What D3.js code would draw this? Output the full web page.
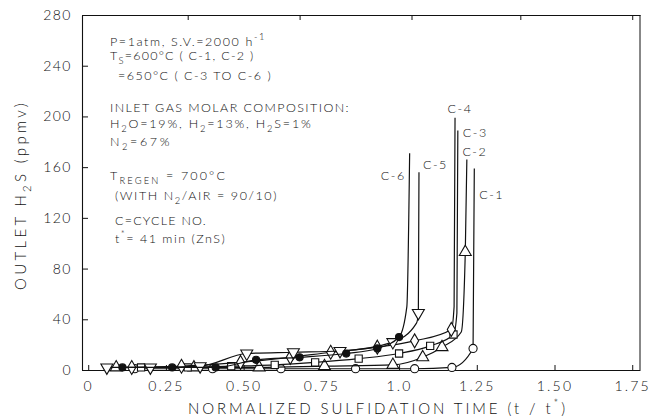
<!DOCTYPE html>
<html>
<head>
<meta charset="utf-8">
<script src="https://cdn.jsdelivr.net/npm/d3@7"></script>
<style>
  body { margin: 0; background: #fff; }
  svg text { font-family: Lato, "DejaVu Sans", sans-serif; font-weight: 300; fill: #111; }
</style>
</head>
<body>
<div id="chart"></div>
<script>
// Axis ticks
const xTicks = [0, 0.25, 0.5, 0.75, 1.0, 1.25, 1.5, 1.75];
const xTickLabels = ["0", "0.25", "0.50", "0.75", "1.0", "1.25", "1.50", "1.75"];
const yTicks = [0, 40, 80, 120, 160, 200, 240, 280];
const topTicks = [0.32, 0.68, 1.04, 1.39, 1.75];

// Cycle names
const cycles = ["C-1", "C-2", "C-3", "C-4", "C-5", "C-6"];

const c1x = [0.15, 0.40, 0.62, 0.86, 1.05, 1.17, 1.238];
const c1y = [1, 1, 1, 1, 1, 2, 17];
const c2x = [0.09, 0.34, 0.55, 0.76, 0.98, 1.076, 1.138, 1.213];
const c2y = [2, 2, 2, 3, 4, 10, 18, 93];
const c3x = [0.17, 0.32, 0.46, 0.60, 0.73, 0.87, 1.0, 1.10, 1.175];
const c3y = [2, 2, 3, 4, 6, 9, 13, 19, 28];
const c4x = [0.14, 0.30, 0.49, 0.65, 0.78, 0.93, 1.05, 1.168];
const c4y = [2, 3, 6, 10, 14, 18, 23, 32];
const c5x = [0.06, 0.20, 0.36, 0.51, 0.66, 0.81, 0.98, 1.062];
const c5y = [2, 2, 3, 13, 14, 15, 22, 45];
const c6x = [0.11, 0.27, 0.41, 0.54, 0.68, 0.83, 0.93, 1.0];
const c6y = [2, 2, 2, 8, 10, 13, 17, 26];

// Where each curve bends and where its vertical run ends (no marker)
const c1tx = [1.242], c1ty = [159];
const c2tx = [1.200, 1.218], c2ty = [30, 166];
const c3tx = [1.186, 1.189], c3ty = [45, 189];
const c4tx = [1.177, 1.180], c4ty = [50, 199];
const c5tx = [1.056, 1.064], c5ty = [37, 156];
const c6tx = [1.025, 1.034], c6ty = [50, 171];

// Text block inside the plot
const notes = [
  "P=1atm,  S.V.=2000 h^{-1}",
  "T_{S}=600°C  ( C-1, C-2 )",
  "=650°C  ( C-3 TO C-6 )",
  "INLET GAS MOLAR COMPOSITION:",
  "H_{2}O=19%,  H_{2}=13%,  H_{2}S=1%",
  "N_{2}=67%",
  "T_{REGEN} = 700°C",
  "(WITH N_{2}/AIR = 90/10)",
  "C=CYCLE NO.",
  "t^{*}= 41 min  (ZnS)"
];

const width = 650, height = 420;
const plotLeft = 82, plotRight = 640, plotTop = 15, plotBottom = 370;

const svg = d3.select("#chart").append("svg")
  .attr("width", width)
  .attr("height", height);

const x = d3.scaleLinear().domain([-0.02, 1.775]).range([plotLeft, plotRight]);
const y = d3.scaleLinear().domain([0, 280]).range([plotBottom, plotTop]);

// text with _{sub} and ^{sup} parts
function rich(sel, str, size) {
  const parts = [];
  const re = /([_^])\{([^}]*)\}/g;
  let last = 0, m;
  while ((m = re.exec(str))) {
    if (m.index > last) parts.push({t: str.slice(last, m.index), type: "n"});
    parts.push({t: m[2], type: m[1] === "_" ? "sub" : "sup"});
    last = re.lastIndex;
  }
  if (last < str.length) parts.push({t: str.slice(last), type: "n"});
  let shift = 0;
  parts.forEach(p => {
    const ts = sel.append("tspan").text(p.t);
    const target = p.type === "sub" ? size * 0.32 : p.type === "sup" ? -size * 0.45 : 0;
    if (target !== shift) ts.attr("dy", target - shift);
    shift = target;
    if (p.type !== "n") ts.attr("font-size", size * 0.75);
  });
}

// stretch the letter spacing so a text covers a given width
function fitWidth(sel, w) {
  const node = sel.node();
  const cur = node.getBBox().width;
  const n = node.textContent.length;
  const ls = parseFloat(sel.attr("letter-spacing") || 0);
  sel.attr("letter-spacing", ls + (w - cur) / n);
}

// X axis
const xAxis = svg.append("g")
  .attr("transform", "translate(0," + plotBottom + ")")
  .call(d3.axisBottom(x).tickValues(xTicks).tickSize(-5).tickSizeOuter(0).tickPadding(11)
    .tickFormat((d, i) => xTickLabels[i]));
xAxis.selectAll("text").attr("font-size", 14).attr("letter-spacing", 2.2)
  .style("font-family", "Lato, 'DejaVu Sans', sans-serif");

// Y axis
const yAxis = svg.append("g")
  .attr("transform", "translate(" + plotLeft + ",0)")
  .call(d3.axisLeft(y).tickValues(yTicks).tickSize(-6).tickSizeOuter(0).tickPadding(10));
yAxis.selectAll("text").attr("font-size", 14).attr("letter-spacing", 1.5)
  .style("font-family", "Lato, 'DejaVu Sans', sans-serif");

// Top border with its ticks, and right border
svg.append("g")
  .attr("transform", "translate(0," + plotTop + ")")
  .call(d3.axisTop(x).tickValues(topTicks).tickSize(-5).tickSizeOuter(0).tickFormat(""));
svg.append("line")
  .attr("x1", plotRight).attr("x2", plotRight)
  .attr("y1", plotTop).attr("y2", plotBottom)
  .attr("stroke", "#111").attr("stroke-width", 1);

svg.selectAll(".domain").attr("stroke", "#111").attr("stroke-width", 1.1);
svg.selectAll(".tick line").attr("stroke", "#111");

// Axis titles
const xt = svg.append("text")
  .attr("x", 378).attr("y", 414)
  .attr("text-anchor", "middle")
  .attr("font-size", 15).attr("letter-spacing", 2);
rich(xt, "NORMALIZED SULFIDATION TIME (t / t^{*})", 15);
fitWidth(xt, 380);

const yt = svg.append("text")
  .attr("transform", "translate(26,195) rotate(-90)")
  .attr("text-anchor", "middle")
  .attr("font-size", 15).attr("letter-spacing", 2);
rich(yt, "OUTLET H_{2}S (ppmv)", 15);
fitWidth(yt, 190);

// Notes
const noteX = [110, 110, 118, 110, 110, 110, 110, 115, 115, 115];
const noteBase = [46, 60, 80, 112, 128, 146, 180, 200, 225, 243];
const noteWidth = [157, 145, 155, 240, 205, 62, 117, 163, 92, 112];
notes.forEach((s, i) => {
  const t = svg.append("text")
    .attr("x", noteX[i]).attr("y", noteBase[i])
    .attr("font-size", 12.5).attr("letter-spacing", 0.6);
  rich(t, s, 12.5);
  fitWidth(t, noteWidth[i]);
});

// Curves
const seriesX = [c1x, c2x, c3x, c4x, c5x, c6x];
const seriesY = [c1y, c2y, c3y, c4y, c5y, c6y];
const tailX = [c1tx, c2tx, c3tx, c4tx, c5tx, c6tx];
const tailY = [c1ty, c2ty, c3ty, c4ty, c5ty, c6ty];

const line = d3.line()
  .x(d => x(d[0]))
  .y(d => y(d[1]))
  .curve(d3.curveMonotoneX);

const symbols = [
  {type: d3.symbolCircle, size: 52, fill: "#fff", rot: 0},
  {type: d3.symbolTriangle, size: 62, fill: "#fff", rot: 0},
  {type: d3.symbolSquare, size: 52, fill: "#fff", rot: 0},
  {type: d3.symbolDiamond, size: 56, fill: "#fff", rot: 0},
  {type: d3.symbolTriangle, size: 62, fill: "#fff", rot: 180},
  {type: d3.symbolCircle, size: 40, fill: "#111", rot: 0}
];

cycles.forEach((name, i) => {
  const pts = seriesX[i].map((v, j) => [v, seriesY[i][j]]);
  const all = pts.concat(tailX[i].map((v, j) => [v, tailY[i][j]]))
    .sort((a, b) => a[0] - b[0]);

  svg.append("path")
    .datum(all)
    .attr("fill", "none")
    .attr("stroke", "#111")
    .attr("stroke-width", 1.2)
    .attr("d", line);

  const s = symbols[i];
  svg.selectAll(".m" + i)
    .data(pts)
    .enter()
    .append("path")
      .attr("class", "m" + i)
      .attr("transform", d => "translate(" + x(d[0]) + "," + y(d[1]) + ") rotate(" + s.rot + ")")
      .attr("d", d3.symbol().type(s.type).size(s.size))
      .attr("fill", s.fill)
      .attr("stroke", "#111")
      .attr("stroke-width", 1.1);
});

// Cycle labels next to the top of each curve
const labelDx = [5, 8, 5, 5, 4, -4];
const labelDy = [31, -4, 7, -5, -3, 27];
const labelAnchor = ["start", "middle", "start", "middle", "start", "end"];
cycles.forEach((name, i) => {
  const tx = tailX[i][tailX[i].length - 1], ty = tailY[i][tailY[i].length - 1];
  svg.append("text")
    .attr("x", x(tx) + labelDx[i])
    .attr("y", y(ty) + labelDy[i])
    .attr("text-anchor", labelAnchor[i])
    .attr("font-size", 12.5)
    .attr("letter-spacing", 1.5)
    .text(name);
});
</script>
</body>
</html>
